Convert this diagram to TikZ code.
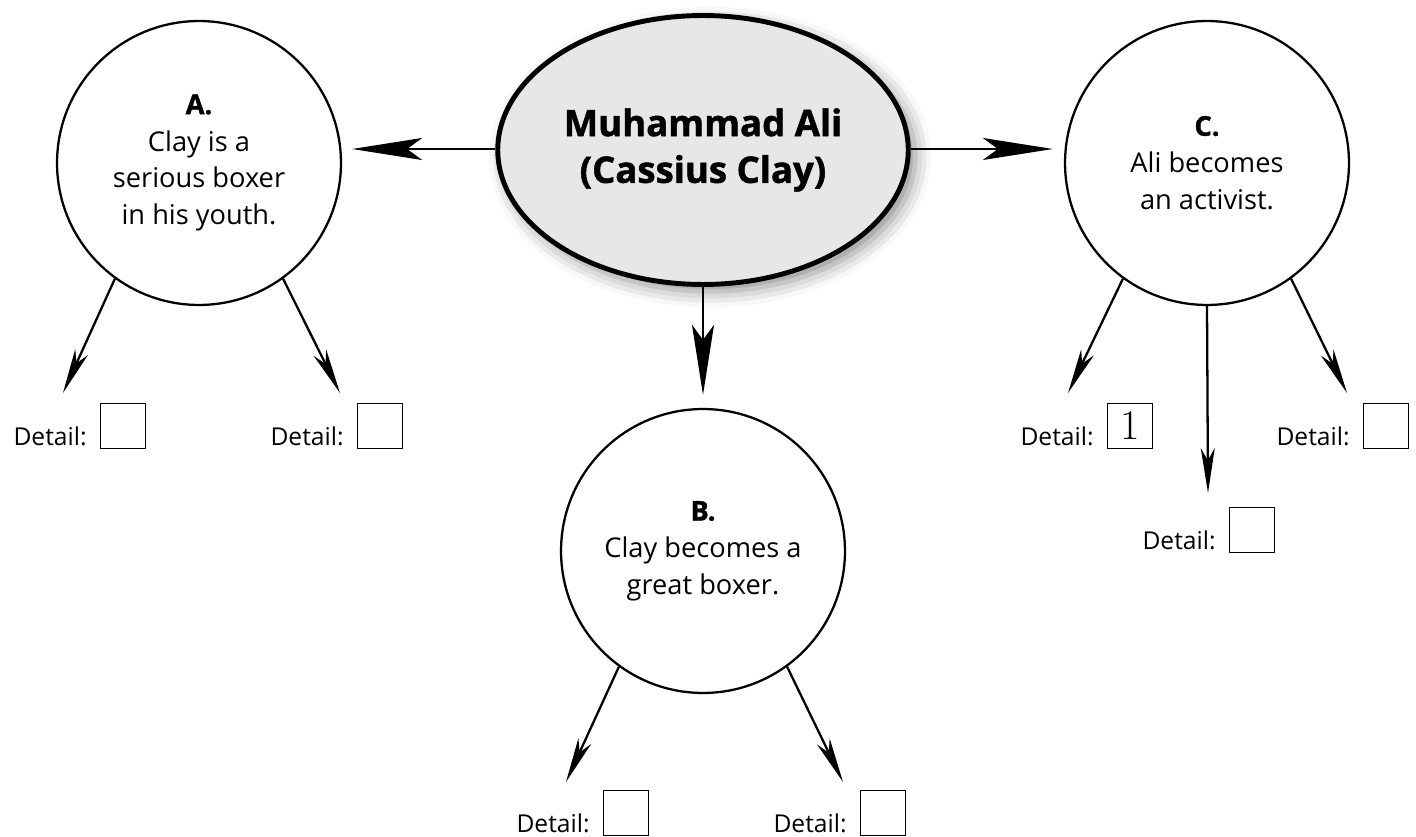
\documentclass[tikz,border=0pt]{standalone}
\usepackage{fontspec}
\newfontfamily\opensans{Open Sans}[BoldFeatures={FakeBold=1.3}]
\usetikzlibrary{positioning,arrows.meta,shapes.geometric,shadows.blur}
\definecolor{ovalgray}{HTML}{E6E7E8}

\begin{document}
\begin{tikzpicture}[x=0.02cm, y=-0.02cm,
    topic/.style={ellipse, draw, line width=2.8pt, fill=ovalgray,
      minimum width=8.1cm, minimum height=5.38cm, align=center,
      font=\opensans\bfseries\fontsize{20.8}{26.6}\selectfont,
      blur shadow={shadow xshift=4pt, shadow yshift=-4pt, shadow blur radius=9pt, shadow opacity=45}},
    idea/.style={circle, draw, line width=1.3pt, minimum size=5.68cm, inner sep=0pt,
      align=center, font=\opensans\fontsize{15.5}{21}\selectfont},
    big/.style={-{Stealth[length=1.4cm, width=0.44cm, inset=0.3cm]}, line width=1.6pt},
    small/.style={-{Stealth[length=0.9cm, width=0.28cm, inset=0.25cm]}, line width=1.3pt},
    box/.style={draw, line width=0.6pt, minimum size=0.9cm, inner sep=0pt, font=\fontsize{24}{24}\selectfont},
    lbl/.style={font=\opensans\fontsize{14}{14}\selectfont, inner sep=0pt}]
    \useasboundingbox (0,0) rectangle (1416,837);

    \node [topic] (M) at (703,150) {Muhammad Ali\\(Cassius Clay)};
    \node [idea] (A) at (199,163) {\textbf{A.}\\Clay is a\\serious boxer\\in his youth.};
    \node [idea] (B) at (703,551) {\textbf{B.}\\Clay becomes a\\great boxer.};
    \node [idea] (C) at (1207,163) {\textbf{C.}\\Ali becomes\\an activist.};

    % boxes for the details
    \node [box] (bA1) at (123,426) {};
    \node [box] (bA2) at (380,426) {};
    \node [box] (bB1) at (626,813) {};
    \node [box] (bB2) at (883,813) {};
    \node [box] (bC1) at (1130,426) {1};
    \node [box] (bC2) at (1252,530) {};
    \node [box] (bC3) at (1386,426) {};

    \foreach \b in {bA1,bA2,bB1,bB2,bC1,bC2,bC3}
      \node [lbl, left=0.26cm of \b.south west, anchor=base east, yshift=0.08cm] (l\b) {Detail:};

    \coordinate (tA1) at (63,393);
    \coordinate (tA2) at (340,393);
    \coordinate (tB1) at (566,782);
    \coordinate (tB2) at (843,782);
    \coordinate (tC1) at (1068,393);
    \coordinate (tC2) at (1208,493);
    \coordinate (tC3) at (1347,393);

    \draw [big, shorten >=0.2cm] (M.west |- 0,149) -- (A.east |- 0,149);
    \draw [big, shorten >=0.22cm] (M.east |- 0,149) -- (C.west |- 0,149);
    \draw [big, shorten >=0.26cm] (M.south) -- (B.north);

    \draw [small] (A.234) -- (tA1);
    \draw [small] (A.306) -- (tA2);
    \draw [small] (B.234) -- (tB1);
    \draw [small] (B.306) -- (tB2);
    \draw [small] (C.234) -- (tC1);
    \draw [small] (C.270) -- (tC2);
    \draw [small] (C.306) -- (tC3);
\end{tikzpicture}
\end{document}
